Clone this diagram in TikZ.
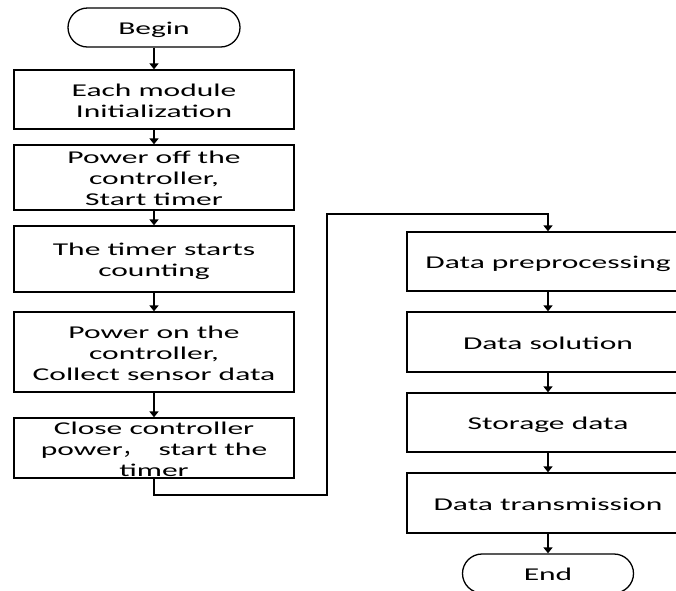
\documentclass[tikz,border=0pt]{standalone}
\usepackage{fontspec}
\setmainfont[FakeStretch=1.75]{Carlito}
\newfontfamily\cjk[FakeStretch=1.2]{Noto Sans CJK SC}
\usetikzlibrary{arrows.meta,shapes.misc}
% one text line with a fixed cap-height box and no depth
\newcommand\fl[1]{\smash{#1}\rule{0pt}{11.6pt}}
\begin{document}
\begin{tikzpicture}[x=1pt,y=-1pt,
  every node/.style={font=\fontsize{18}{21}\selectfont, align=center, inner sep=0pt},
  txt/.style={yshift=-1.5pt},
  stepbox/.style={draw, line width=1.3pt, minimum width=280pt},
  rbox/.style={draw, line width=1.3pt, minimum width=282pt},
  term/.style={draw, line width=1.3pt, rounded rectangle, minimum width=172pt, minimum height=39pt},
  flow/.style={line width=2.1pt, -{Triangle[width=9pt,length=6pt]}}]
\useasboundingbox (0,0) rectangle (676,590);
% left column
\node[term, label={[txt]center:\fl{Begin}}] (begin) at (154,27.5) {};
\node[stepbox, minimum height=59pt, label={[txt]center:\fl{Each module}\\\fl{Initialization}}] (b1) at (154,99.5) {};
\node[stepbox, minimum height=65pt, label={[txt]center:\fl{Power off the}\\\fl{controller,}\\\fl{Start timer}}] (b2) at (154,177.5) {};
\node[stepbox, minimum height=66pt, label={[txt]center:\fl{The timer starts}\\\fl{counting}}] (b3) at (154,259) {};
\node[stepbox, minimum height=80pt, label={[txt]center:\fl{Power on the}\\\fl{controller,}\\\fl{Collect sensor data}}] (b4) at (154,352) {};
\node[stepbox, minimum height=60pt, label={[txt]center:\fl{Close controller}\\\fl{power{\cjk ，}\ \ start the}\\\fl{timer}}] (b5) at (154,448) {};
% right column
\node[rbox, minimum height=59pt, label={[txt]center:\fl{Data preprocessing}}] (r1) at (548,261.5) {};
\node[rbox, minimum height=60pt, label={[txt]center:\fl{Data solution}}] (r2) at (548,342) {};
\node[rbox, minimum height=59pt, label={[txt]center:\fl{Storage data}}] (r3) at (548,422.5) {};
\node[rbox, minimum height=60pt, label={[txt]center:\fl{Data transmission}}] (r4) at (548,503) {};
\node[term, minimum width=171pt, label={[txt]center:\fl{End}}] (end) at (548,573.5) {};
% connectors
\draw[flow] (begin) -- (b1);
\draw[flow] (b1) -- (b2);
\draw[flow] (b2) -- (b3);
\draw[flow] (b3) -- (b4);
\draw[flow] (b4) -- (b5);
\coordinate (k1) at (327,495);
\coordinate (k2) at (327,214);
\draw[flow] (b5.south) |- (k1) -- (k2) -| (r1.north);
\draw[flow] (r1) -- (r2);
\draw[flow] (r2) -- (r3);
\draw[flow] (r3) -- (r4);
\draw[flow] (r4) -- (end);
\end{tikzpicture}
\end{document}
